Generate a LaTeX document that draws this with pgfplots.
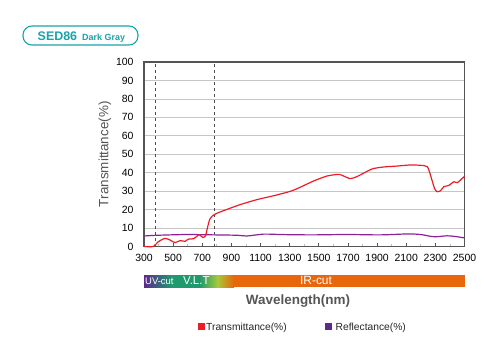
\documentclass[border=0pt]{standalone}
\usepackage{pgfplots}
\pgfplotsset{compat=1.18}
\usepackage{fontspec}
\setmainfont{Liberation Sans}
\definecolor{teal1}{HTML}{1AA3A8}
\definecolor{tred}{HTML}{EE1C25}
\definecolor{rpurp}{HTML}{8E1F9A}
\definecolor{axgray}{HTML}{555555}
\definecolor{txtgray}{HTML}{555555}
\definecolor{cbpurp}{HTML}{5B2A8C}
\definecolor{cbgreen}{HTML}{1E9A6E}
\definecolor{cbyg}{HTML}{A8C83A}
\definecolor{cborange}{HTML}{E8660C}
\begin{document}
\begin{tikzpicture}[x=1bp,y=1bp]
\path[use as bounding box] (0,0) rectangle (500,350);
% title box
\draw[teal1, line width=1.1bp, rounded corners=9bp] (23,305) rectangle (138,324);
\node[anchor=base west, text=teal1, font=\fontsize{12.5}{14}\selectfont\bfseries, inner sep=0] at (37.5,310) {SED86};
\node[anchor=base west, text=teal1, font=\fontsize{9}{10}\selectfont\bfseries, inner sep=0] at (82,310) {Dark Gray};
\begin{axis}[
  at={(144bp,103.5bp)}, anchor=origin,
  scale only axis, width=320.5bp, height=184.5bp,
  xmin=300, xmax=2500, ymin=0, ymax=100,
  xtick={300,500,...,2500},
  minor xtick={400,600,...,2400},
  ytick={0,10,...,100},
  ymajorgrids,
  grid style={gray!45, line width=0.6bp},
  axis line style={axgray, line width=1.2bp},
  tick align=inside,
  xtick pos=bottom,
  major tick length=4bp, minor tick length=3bp,
  major tick style={axgray, line width=0.7bp},
  minor tick style={gray!50, line width=0.7bp},
  ytick style={draw=none},
  /pgf/number format/assume math mode=true,
  /pgf/number format/1000 sep={},
  ticklabel style={font=\fontsize{10.5}{12}\selectfont, text=black},
  xticklabel style={yshift=-4bp},
  yticklabel style={xshift=-7bp},
  ylabel={Transmittance(\%)},
  ylabel style={font=\fontsize{13.5}{15}\selectfont, text=txtgray, yshift=-2bp},
  clip=false,
]
\addplot[black!70, dashed, line width=0.6bp] coordinates {(380,0) (380,100)};
\addplot[black!70, dashed, line width=0.6bp] coordinates {(780,0) (780,100)};
\addplot[rpurp, line width=1.2bp, smooth] coordinates {
(300,5.7) (364,6.0) (480,6.3) (605,6.5) (780,6.3) (937,6.1) (1006,5.7) (1120,6.7) (1235,6.5) (1304,6.4)
(1464,6.3) (1693,6.5) (1922,6.3) (2106,6.8) (2198,6.5) (2290,5.3) (2381,5.8) (2440,5.4) (2496,4.7)};
\addplot[tred, line width=1.2bp, smooth, tension=0.4] coordinates {
(300,0) (364,0) (398,2.6) (444,4.4) (479,3.5) (513,2.1) (548,3.2) (582,2.8) (605,4.0) (639,4.2)
(662,5.5) (680,6.4) (703,4.9) (722,5.8) (735,10) (750,14.5) (770,16.6) (800,18) (845,19.4) (960,22.7)
(1075,25.4) (1189,27.5) (1304,29.9) (1372,32.1) (1464,35.5) (1556,38.2) (1636,39.1) (1670,38.2)
(1716,36.8) (1762,37.9) (1865,42.0) (1945,43.1) (2037,43.6) (2129,44.2) (2198,44.0) (2244,43.3)
(2266,38.8) (2294,31.5) (2312,29.7) (2335,30.2) (2358,32.4) (2392,33.1) (2427,35.1) (2450,34.6)
(2484,36.9) (2500,38)};
\end{axis}
% colour bar
\fill[left color=cbpurp, right color=cbgreen] (144,63) rectangle (172,75);
\fill[left color=cbgreen, right color=cbgreen] (171.5,63) rectangle (200,75);
\fill[left color=cbgreen, right color=cbyg] (199.5,63) rectangle (218,75);
\fill[left color=cbyg, right color=cborange] (217.5,63) rectangle (234,75);
\fill[cborange] (233.5,63) rectangle (465,75);
\node[anchor=base west, text=white, font=\fontsize{9.5}{11}\selectfont, inner sep=0] at (145,65.5) {UV-cut};
\node[anchor=base west, text=white, font=\fontsize{11.5}{13}\selectfont, inner sep=0] at (183,65.5) {V.L.T};
\node[anchor=base, text=white, font=\fontsize{12}{14}\selectfont, inner sep=0] at (316,65.5) {IR-cut};
\node[anchor=base, text=txtgray, font=\fontsize{13.5}{15}\selectfont\bfseries, inner sep=0] at (298,45.5) {Wavelength(nm)};
% legend
\fill[tred] (198,20) rectangle (205,27);
\node[anchor=base west, font=\fontsize{10.3}{12}\selectfont, inner sep=0, text=black!85] at (206,20) {Transmittance(\%)};
\fill[cbpurp] (325,20) rectangle (332,27);
\node[anchor=base west, font=\fontsize{10.3}{12}\selectfont, inner sep=0, text=black!85] at (335.5,20) {Reflectance(\%)};
\end{tikzpicture}
\end{document}
